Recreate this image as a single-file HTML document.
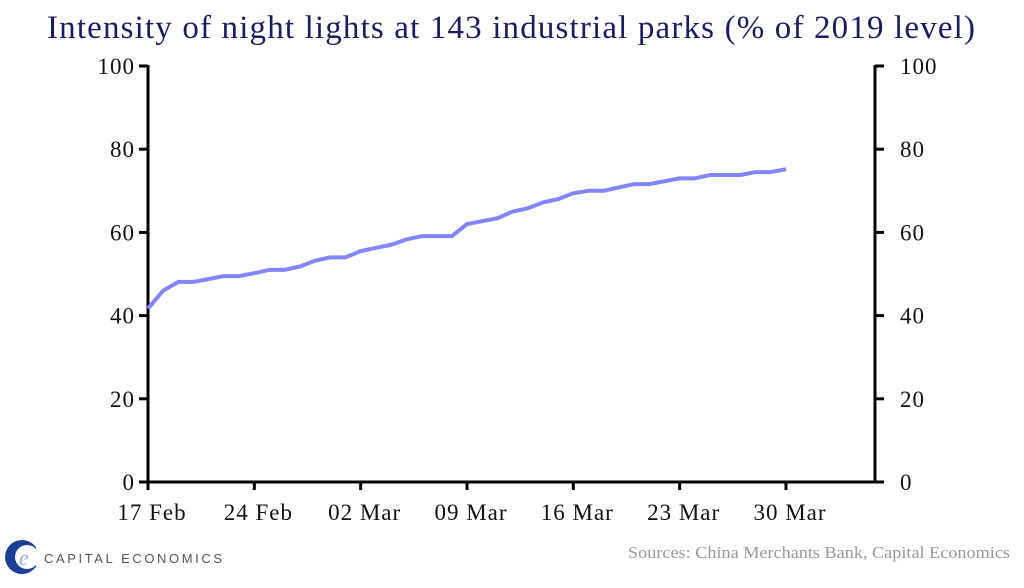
<!DOCTYPE html>
<html><head><meta charset="utf-8"><style>
body{margin:0;background:#fff;}
svg text{font-family:"Liberation Serif",serif;}
</style></head><body>
<svg width="1024" height="583" viewBox="0 0 1024 583">
<text x="47" y="38" textLength="928" lengthAdjust="spacing" font-size="33" fill="#1c1c5c">Intensity of night lights at 143 industrial parks (% of 2019 level)</text>
<g id="axes"></g>
<polyline id="line" fill="none" stroke="#8585fb" stroke-width="4" stroke-linejoin="round"/>
<g>
<circle cx="22" cy="557" r="17" fill="#1b3f94"/>
<circle cx="27" cy="557" r="12" fill="#fff"/>
<text x="19" y="565" font-size="22" fill="#8fb0e0" font-style="italic">e</text>
<rect x="36" y="545" width="8" height="24" fill="#fff"/>
<text x="44" y="563" font-size="13" fill="#555" textLength="178" lengthAdjust="spacing" style="font-family:'Liberation Sans',sans-serif">CAPITAL ECONOMICS</text>
</g>
<text x="628" y="558" textLength="382" lengthAdjust="spacingAndGlyphs" font-size="17" fill="#999">Sources: China Merchants Bank, Capital Economics</text>
</svg>
<script>
const values=[41.7,46.0,48.1,48.1,48.8,49.5,49.5,50.2,51.0,51.0,51.8,53.2,54.0,54.0,55.5,56.3,57.0,58.3,59.1,59.1,59.1,62.0,62.7,63.4,65.0,65.8,67.2,68.0,69.4,70.0,70.0,70.8,71.6,71.6,72.3,73.0,73.0,73.8,73.8,73.8,74.5,74.5,75.2];
const yTicks=[0,20,40,60,80,100];
const xLabels=["17 Feb","24 Feb","02 Mar","09 Mar","16 Mar","23 Mar","30 Mar"];
const L=148,R=875,T=66,B=482,step=15.19;
const y=v=>B-(v/100)*(B-T);
const x=i=>L+i*step;
const NS="http://www.w3.org/2000/svg";
const g=document.getElementById('axes');
function el(t,a){const e=document.createElementNS(NS,t);for(const k in a)e.setAttribute(k,a[k]);g.appendChild(e);return e;}
let e;
e=el('line',{x1:L,y1:T-1,x2:L,y2:B+1,stroke:'#000','stroke-width':3});


e=el('line',{x1:R,y1:T-1,x2:R,y2:B+1,stroke:'#000','stroke-width':3});


e=el('line',{x1:L,y1:B,x2:R,y2:B,stroke:'#000','stroke-width':3});


yTicks.forEach(v=>{
 el('line',{x1:L-9,y1:y(v),x2:L,y2:y(v),stroke:'#000','stroke-width':3});
 el('line',{x1:R,y1:y(v),x2:R+9,y2:y(v),stroke:'#000','stroke-width':3});
 let t=el('text',{x:L-13,y:y(v)+8,'text-anchor':'end','font-size':23,'letter-spacing':1,fill:'#111'});t.textContent=v;
 
 
 t=el('text',{x:R+25,y:y(v)+8,'text-anchor':'start','font-size':23,'letter-spacing':1,fill:'#111'});t.textContent=v;
 
 
});
xLabels.forEach((s,k)=>{
 const xx=x(k*7);
 el('line',{x1:xx,y1:B,x2:xx,y2:B+8,stroke:'#000','stroke-width':3});
 const t=el('text',{x:xx+4,y:B+38,'text-anchor':'middle','font-size':23,'letter-spacing':1,fill:'#111'});t.textContent=s;
 
 
});
document.getElementById('line').setAttribute('points',values.map((v,i)=>x(i)+','+y(v)).join(' '));
</script>
</body></html>
